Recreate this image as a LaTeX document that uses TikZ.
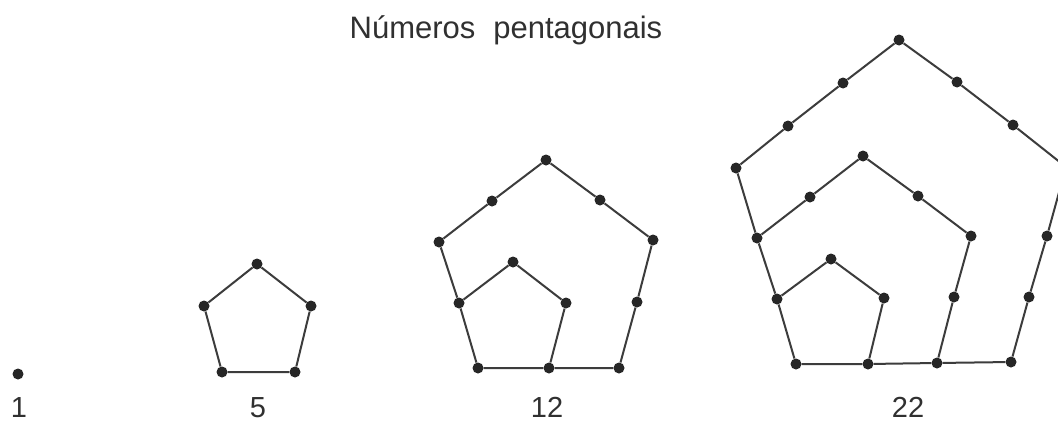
\documentclass[tikz,border=0pt]{standalone}
\usepackage{fontspec}
\setmainfont{Liberation Sans}
\definecolor{ink}{HTML}{262626}
\definecolor{txt}{HTML}{303030}
\tikzset{
  dot/.style={circle,fill=ink,inner sep=0pt,minimum size=11pt},
  edge/.style={draw=ink!90,line width=2pt},
  lbl/.style={text=txt,anchor=base,font=\fontsize{29}{34}\selectfont},
  ttl/.style={text=txt,anchor=base,font=\fontsize{31}{36}\selectfont},
}
\begin{document}
\begin{tikzpicture}[x=1pt,y=-1pt]
\useasboundingbox (0,0) rectangle (1058,426);
\clip (0,0) rectangle (1058,426);
\fill[white] (0,0) rectangle (1058,426);

\node[ttl] (title) at (506,38) {Números\hspace{0.3em} pentagonais};

% 1
\node[dot] (d1) at (18,374) {};
\node[lbl] (l1) at (19,417) {1};

% 5
\node[dot] (f0) at (257,264) {};
\node[dot] (f1) at (204,306) {};
\node[dot] (f2) at (222,372) {};
\node[dot] (f3) at (295,372) {};
\node[dot] (f4) at (311,306) {};
\draw[edge] (f0) -- (f1) -- (f2) -- (f3) -- (f4) -- (f0);
\node[lbl] (l5) at (258,417) {5};

% 12
\node[dot] (t0) at (546,160) {};
\node[dot] (t1) at (492,201) {};
\node[dot] (t2) at (439,242) {};
\node[dot] (t3) at (459,303) {};
\node[dot] (t4) at (478,368) {};
\node[dot] (t5) at (549,368) {};
\node[dot] (t6) at (619,368) {};
\node[dot] (t7) at (637,302) {};
\node[dot] (t8) at (653,240) {};
\node[dot] (t9) at (600,200) {};
\node[dot] (ti0) at (513,262) {};
\node[dot] (ti1) at (566,303) {};
\draw[edge] (t0) -- (t1) -- (t2) -- (t3) -- (t4) -- (t5) -- (t6) -- (t7) -- (t8) -- (t9) -- (t0);
\draw[edge] (t3) -- (ti0) -- (ti1) -- (t5);
\node[lbl] (l12) at (547,417) {12};

% 22
\node[dot] (v0) at (899,40) {};
\node[dot] (v1) at (843,83) {};
\node[dot] (v2) at (788,126) {};
\node[dot] (v3) at (736,168) {};
\node[dot] (v4) at (757,238) {};
\node[dot] (v5) at (777,299) {};
\node[dot] (v6) at (796,364) {};
\node[dot] (v7) at (868,364) {};
\node[dot] (v8) at (937,363) {};
\node[dot] (v9) at (1011,362) {};
\node[dot] (v10) at (1029,297) {};
\node[dot] (v11) at (1047,236) {};
\node[dot] (v12) at (1066,167) {};
\node[dot] (v13) at (1013,125) {};
\node[dot] (v14) at (957,82) {};
\node[dot] (m0) at (863,156) {};
\node[dot] (m1) at (810,197) {};
\node[dot] (m2) at (918,196) {};
\node[dot] (m3) at (971,236) {};
\node[dot] (m4) at (954,297) {};
\node[dot] (n0) at (831,259) {};
\node[dot] (n1) at (884,298) {};
\draw[edge] (v0) -- (v1) -- (v2) -- (v3) -- (v4) -- (v5) -- (v6) -- (v7) -- (v8) -- (v9) -- (v10) -- (v11) -- (v12) -- (v13) -- (v14) -- (v0);
\draw[edge] (v4) -- (m1) -- (m0) -- (m2) -- (m3) -- (m4) -- (v8);
\draw[edge] (v5) -- (n0) -- (n1) -- (v7);
\node[lbl] (l22) at (908,417) {22};
\end{tikzpicture}
\end{document}
